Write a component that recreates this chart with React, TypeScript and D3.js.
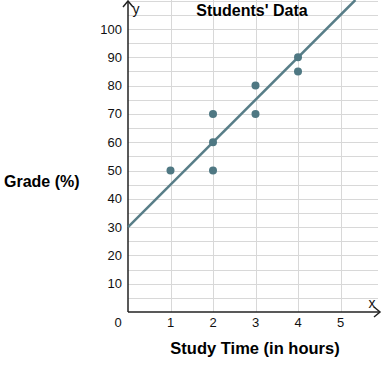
import { useRef, useEffect } from "react";
import * as d3 from "d3";

const hours = [1, 2, 2, 2, 3, 3, 4, 4];
const grades = [50, 50, 60, 70, 70, 80, 85, 90];
const xTicks = [1, 2, 3, 4, 5];
const yTicks = [10, 20, 30, 40, 50, 60, 70, 80, 90, 100];
const fitIntercept = 30;
const fitSlope = 15;

export default function App() {
  const svgRef = useRef<SVGSVGElement>(null);

  useEffect(() => {
    const svg = d3.select(svgRef.current);
    svg.selectAll("*").remove();

    const x = d3.scaleLinear().domain([0, 1]).range([128, 170.5]);
    const y = d3.scaleLinear().domain([0, 10]).range([312, 283.7]);
    const font = "Arial, 'Liberation Sans', sans-serif";

    // grid
    const g = svg.append("g").attr("stroke", "#d8d8d8").attr("stroke-width", 1);
    g.selectAll("line.h")
      .data(d3.range(5, 115, 5))
      .join("line")
      .attr("x1", x(0))
      .attr("x2", 378)
      .attr("y1", (d) => Math.round(y(d)) + 0.5)
      .attr("y2", (d) => Math.round(y(d)) + 0.5);
    g.selectAll("line.v")
      .data(xTicks)
      .join("line")
      .attr("x1", (d) => Math.round(x(d)) + 0.5)
      .attr("x2", (d) => Math.round(x(d)) + 0.5)
      .attr("y1", y(0))
      .attr("y2", 0);

    // axes
    const ax = svg.append("g").attr("stroke", "#222").attr("stroke-width", 1.5).attr("fill", "none");
    ax.append("line").attr("x1", x(0)).attr("x2", 380).attr("y1", y(0)).attr("y2", y(0));
    ax.append("line").attr("x1", x(0)).attr("x2", x(0)).attr("y1", y(0)).attr("y2", 1);
    ax.append("path").attr("d", `M${x(0) - 5},7 L${x(0)},1 L${x(0) + 5},7`);
    ax.append("path").attr("d", `M374,${y(0) - 5} L380,${y(0)} L374,${y(0) + 5}`);

    // tick labels
    svg.append("g")
      .selectAll("text")
      .data(yTicks)
      .join("text")
      .attr("x", 122)
      .attr("y", (d) => y(d) + 4.5)
      .attr("text-anchor", "end")
      .attr("font-family", font)
      .attr("font-size", 13)
      .attr("fill", "#111")
      .text((d) => d);
    svg.append("g")
      .selectAll("text")
      .data(xTicks)
      .join("text")
      .attr("x", (d) => x(d))
      .attr("y", 327)
      .attr("text-anchor", "middle")
      .attr("font-family", font)
      .attr("font-size", 13)
      .attr("fill", "#111")
      .text((d) => d);
    svg.append("text")
      .attr("x", 118).attr("y", 327)
      .attr("text-anchor", "middle")
      .attr("font-family", font).attr("font-size", 13).attr("fill", "#111")
      .text("0");
    svg.append("text")
      .attr("x", 372).attr("y", 308)
      .attr("text-anchor", "middle")
      .attr("font-family", font).attr("font-size", 14).attr("fill", "#111")
      .text("x");
    svg.append("text")
      .attr("x", 136).attr("y", 14)
      .attr("text-anchor", "middle")
      .attr("font-family", font).attr("font-size", 14).attr("fill", "#111")
      .text("y");

    // fit line
    const xEnd = (y.invert(0) - fitIntercept) / fitSlope;
    svg.append("line")
      .attr("x1", x(0))
      .attr("y1", y(fitIntercept))
      .attr("x2", x(xEnd))
      .attr("y2", y(fitIntercept + fitSlope * xEnd))
      .attr("stroke", "#587e88")
      .attr("stroke-width", 2.5);

    // points
    svg.append("g")
      .selectAll("circle")
      .data(hours)
      .join("circle")
      .attr("cx", (d) => x(d))
      .attr("cy", (_, i) => y(grades[i]))
      .attr("r", 4)
      .attr("fill", "#4f7883");

    // titles
    svg.append("text")
      .attr("x", 252).attr("y", 16)
      .attr("text-anchor", "middle")
      .attr("font-family", font).attr("font-size", 16).attr("font-weight", "bold")
      .text("Students' Data");
    svg.append("text")
      .attr("x", 4).attr("y", 187)
      .attr("font-family", font).attr("font-size", 16).attr("font-weight", "bold")
      .text("Grade (%)");
    svg.append("text")
      .attr("x", 255).attr("y", 354)
      .attr("text-anchor", "middle")
      .attr("font-family", font).attr("font-size", 16.5).attr("font-weight", "bold")
      .text("Study Time (in hours)");
  }, []);

  return (
    <svg
      ref={svgRef}
      width={385}
      height={372}
      style={{ position: "absolute", left: 0, top: 0, background: "#fff" }}
    />
  );
}
